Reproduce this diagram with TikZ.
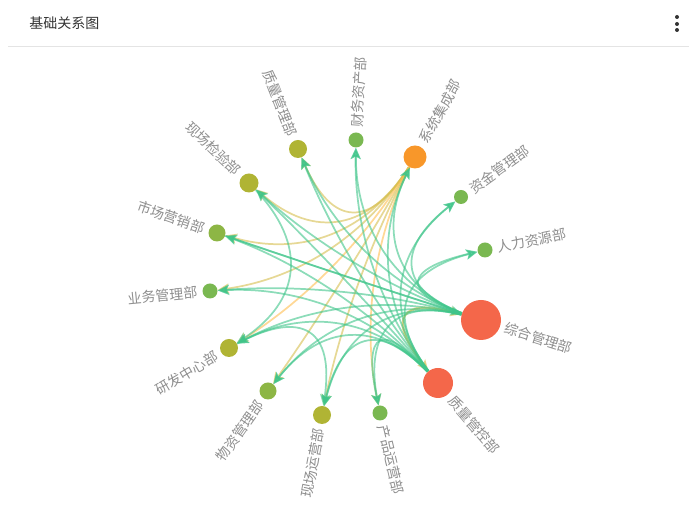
\documentclass[tikz,border=0pt]{standalone}
\usepackage{fontspec}
\setmainfont{Noto Sans CJK SC}
\usepackage{tikz}
\usetikzlibrary{arrows.meta,calc}
\usepackage{xcolor}

\definecolor{nodered}{HTML}{F4674A}
\definecolor{nodeorange}{HTML}{F8972A}
\definecolor{nodegreen}{HTML}{7AB851}
\definecolor{nodelime}{HTML}{8DB645}
\definecolor{nodeolive}{HTML}{B0B434}
\definecolor{linkgreen}{HTML}{3FC58A}
\definecolor{linkyellow}{HTML}{D6BE4E}
\definecolor{linkorange}{HTML}{FFBE50}
\definecolor{labelgray}{HTML}{8E8E8E}
\definecolor{rulegray}{HTML}{E4E4E4}

\pgfdeclarelayer{bg}
\pgfsetlayers{bg,main}

\tikzset{
	dept/.style={circle,inner sep=0pt,minimum size={1.5pt*#1}},
	deptlabel/.style={text=labelgray,inner sep=0pt,font=\fontsize{10.5}{12}\selectfont},
	link/.style={line width=1.3pt,opacity=0.6,-{Stealth[length=8.5pt,width=7.5pt,inset=2pt]}},
	glink/.style={link,draw=linkgreen},
	ylink/.style={link,draw=linkyellow},
	olink/.style={link,draw=linkorange}
}

\begin{document}
\begin{tikzpicture}[x=0.75pt,y=0.75pt]
	\useasboundingbox (0,0) rectangle (699,505);

	% header
	\node[anchor=west,inner sep=0pt,text=black!80,font=\fontsize{10.5}{12}\selectfont] (title) at (29,482) {基础关系图};
	\foreach \i/\y in {1/488,2/481,3/475}
		\fill[black!80] (677,\y) circle (2) coordinate (dot\i);
	\coordinate (ruleL) at (8,458);
	\coordinate (ruleR) at (689,458);
	\draw[rulegray,line width=0.75pt] (ruleL) -- (ruleR);

	% departments on the circle
	\coordinate (O) at (348,227);
	\foreach \n/\x/\y/\r/\c/\a/\rot/\anc/\t in {
		F/356/365/7.5/nodegreen/86.7/86.7/west/财务资产部,
		S/415/348/11.5/nodeorange/61/61/west/系统集成部,
		ZJ/461/308/7/nodegreen/35.6/35.6/west/资金管理部,
		RL/485/255/7.5/nodegreen/11.5/11.5/west/人力资源部,
		Z/481/185/20/nodered/-17.5/-17.5/west/综合管理部,
		Q/438/122/15/nodered/-49.4/-49.4/west/质量管控部,
		CP/380/92/7.5/nodegreen/-76.7/-76.7/west/产品运营部,
		XY/322/90/9/nodeolive/-100.7/79.3/east/现场运营部,
		WZ/268/114/8.5/nodelime/-125.3/54.7/east/物资管理部,
		YF/229/157/9/nodeolive/-149.5/30.5/east/研发中心部,
		YW/210/214/7.5/nodegreen/-174.6/5.4/east/业务管理部,
		SC/217/272/8.5/nodelime/161/-19/east/市场营销部,
		XJ/249/322/9.5/nodeolive/136.2/-43.8/east/现场检验部,
		QM/298/356/9/nodeolive/111.2/-68.8/east/质量管理部}
	{
		\node[dept=\r,fill=\c] (\n) at (\x,\y) {};
		\node[deptlabel,rotate=\rot,anchor=\anc] (\n-l) at ($(\n)+(\a:{\r+5})$) {\t};
	}

	% relations
	\begin{pgfonlayer}{bg}
		\foreach \s/\t/\k in {
			S/QM/ylink,S/XJ/ylink,S/SC/ylink,S/YW/ylink,S/WZ/ylink,S/XY/ylink,
			S/YF/olink,S/CP/olink,
			Z/Q/ylink,Q/Z/ylink,
			Z/F/glink,Z/S/glink,Z/ZJ/glink,Z/RL/glink,Z/CP/glink,Z/XY/glink,
			Z/WZ/glink,Z/YF/glink,Z/YW/glink,Z/SC/glink,Z/XJ/glink,Z/QM/glink,
			Q/F/glink,Q/S/glink,Q/ZJ/glink,Q/RL/glink,Q/CP/glink,Q/XY/glink,
			Q/WZ/glink,Q/YF/glink,Q/YW/glink,Q/SC/glink,Q/XJ/glink,Q/QM/glink,
			SC/Z/glink,XJ/YF/glink,YF/XY/glink}
		{
			\coordinate (m) at ($(\s)!0.5!(\t)$);
			\coordinate (cp) at ($(O)!0.1!(m)$);
			\draw[\k] (\s) .. controls ($(\s)!2/3!(cp)$) and ($(\t)!2/3!(cp)$) .. (\t);
		}
	\end{pgfonlayer}
\end{tikzpicture}
\end{document}
